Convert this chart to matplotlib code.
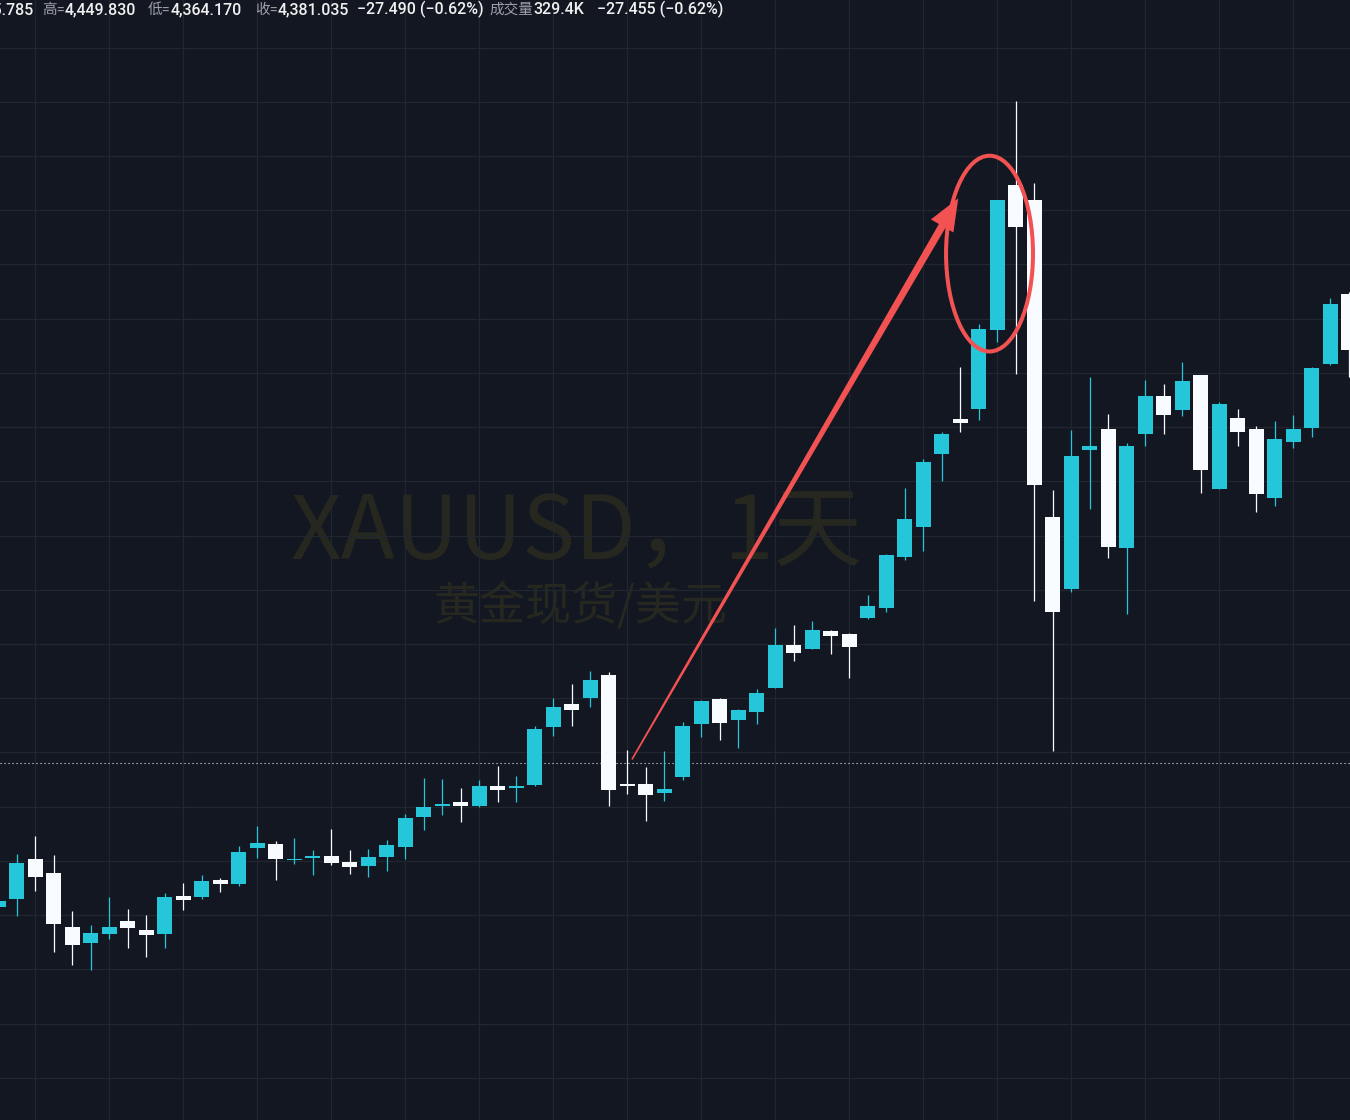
import matplotlib
matplotlib.use("Agg")
import matplotlib.pyplot as plt
from matplotlib.patches import Ellipse, Polygon
import numpy as np

# daily candles, XAUUSD
opens = [4115, 4130, 4203, 4178, 4078, 4049, 4065, 4089, 4073, 4065,
         4135, 4133, 4165, 4157, 4224, 4231, 4202, 4205, 4209, 4198,
         4191, 4207, 4226, 4281, 4301, 4309, 4301, 4338, 4334, 4340,
         4447, 4489, 4500, 4543, 4342, 4342, 4325, 4355, 4452, 4499,
         4460, 4475, 4519, 4598, 4591, 4624, 4618, 4648, 4666, 4760,
         4816, 4950, 5015, 5033, 5179, 5447, 5419, 4834, 4701, 4958,
         4997, 4777, 4987, 5057, 5032, 5096, 4886, 5017, 4997, 4869,
         4973, 4998, 5116, 5246]
highs = [4133, 4213, 4246, 4211, 4108, 4082, 4133, 4111, 4100, 4141,
         4159, 4174, 4168, 4227, 4264, 4237, 4242, 4220, 4259, 4220,
         4222, 4239, 4286, 4353, 4351, 4334, 4349, 4375, 4357, 4449,
         4500, 4526, 4550, 4548, 4405, 4373, 4403, 4456, 4497, 4500,
         4480, 4517, 4630, 4635, 4642, 4626, 4620, 4690, 4766, 4888,
         4941, 4991, 5111, 5190, 5419, 5601, 5450, 4884, 4995, 5092,
         5024, 4971, 5087, 5080, 5120, 5097, 5046, 5033, 5002, 5011,
         5022, 5110, 5238, 5249]
lows = [4106, 4098, 4144, 4032, 4008, 3999, 4056, 4039, 4023, 4039,
        4109, 4130, 4143, 4154, 4205, 4165, 4194, 4174, 4192, 4176,
        4170, 4181, 4203, 4257, 4285, 4272, 4300, 4309, 4309, 4339,
        4430, 4449, 4484, 4301, 4323, 4274, 4310, 4349, 4429, 4423,
        4408, 4452, 4518, 4569, 4590, 4582, 4537, 4646, 4659, 4755,
        4772, 4901, 4991, 5013, 5157, 5098, 4679, 4403, 4696, 4849,
        4759, 4655, 4965, 4987, 5021, 4879, 4885, 4965, 4843, 4855,
        4962, 4982, 5115, 5092]
closes = [4126, 4196, 4170, 4084, 4045, 4067, 4078, 4076, 4063, 4133,
          4128, 4163, 4157, 4216, 4233, 4203, 4203, 4209, 4196, 4189,
          4207, 4229, 4279, 4299, 4305, 4301, 4338, 4331, 4338, 4443,
          4484, 4478, 4534, 4331, 4338, 4322, 4333, 4449, 4495, 4454,
          4478, 4510, 4598, 4583, 4626, 4615, 4594, 4670, 4764, 4831,
          4936, 4987, 5008, 5181, 5419, 5369, 4893, 4659, 4947, 4965,
          4779, 4965, 5057, 5022, 5085, 4921, 5043, 4991, 4877, 4978,
          4997, 5109, 5227, 5142]

last_price = 4381.035

# header (legend line), label + value
header_labels = ["开=", "高=", "低=", "收=", "", "成交量", ""]
header_values = ["4,405.785", "4,449.830", "4,364.170", "4,381.035",
                 "\u221227.490 (\u22120.62%)", "329.4K", "\u221227.455 (\u22120.62%)"]
header_x = [None, 42, 148, 255, 357, 489, 597]   # px from left

wm_title = "XAUUSD\uff0c1天"
wm_sub = "黄金现货/美元"

# annotation anchors (bar index, price)
arrow_start = (34.25, 4387)
arrow_tip = (51.89, 5422)
ring_center = (53.58, 5320)
ring_size = (4.70, 361)

bg = "#131722"
grid_c = "#22262f"
teal = "#26c6da"
white = "#f8fbff"
red = "#f25252"

W, H = 1350, 1120
fig = plt.figure(figsize=(W / 100, H / 100), dpi=100, facecolor=bg)
ax = fig.add_axes([0, 0, 1, 1])
ax.set_facecolor(bg)
ax.set_xlim(0.092, 73.065)
ax.set_ylim(3722.1, 5787.7)
for s in ax.spines.values():
    s.set_visible(False)
ax.set_xticks(np.arange(2, 73, 4))
ax.set_yticks(np.arange(3800, 5800, 100))
ax.tick_params(length=0, labelbottom=False, labelleft=False)
ax.set_axisbelow(True)
ax.grid(True, color=grid_c, lw=0.9)

# watermark
t1 = ax.text(577 / W, 1 - 559 / H, wm_title, transform=fig.transFigure,
             ha="center", va="baseline", fontsize=80, color="#26281f",
             family=["Noto Sans CJK SC", "DejaVu Sans"], zorder=0.3)
t2 = ax.text(581 / W, 1 - 606 / H, wm_sub, transform=fig.transFigure,
             ha="center", va="center", fontsize=34, color="#26281f",
             family=["Noto Sans CJK SC", "DejaVu Sans"], zorder=0.3)
r = fig.canvas.get_renderer()
for t, target in ((t1, 572), (t2, 294)):
    w = t.get_window_extent(r).width
    t.set_fontsize(t.get_fontsize() * target / w)

# price line
ax.axhline(last_price, color="#e2e4ea", lw=0.8, linestyle=(0, (1, 2.6)), zorder=2)

# candles
x = np.arange(len(opens))
o = np.array(opens, dtype=float)
c = np.array(closes, dtype=float)
cols = np.where(c >= o, teal, white)
ax.vlines(x, lows, highs, colors=cols, lw=0.9, zorder=3)
ax.bar(x, np.maximum(np.abs(c - o), 1.9), bottom=np.minimum(o, c), width=0.81,
       color=cols, linewidth=0, zorder=4)

# red arrow, tapering shaft
S = ax.transData.transform(arrow_start)
T = ax.transData.transform(arrow_tip)
u = (T - S) / np.hypot(*(T - S))
n = np.array([-u[1], u[0]])
base = T - u * 32
pts = [S + n * 0.8, base + n * 3.8, base + n * 13, T,
       base - n * 13, base - n * 3.8, S - n * 0.8]
ax.add_patch(Polygon(ax.transData.inverted().transform(pts), closed=True,
                     fc=red, ec="none", zorder=6))

ax.add_patch(Ellipse(ring_center, ring_size[0], ring_size[1], fill=False,
                     ec=red, lw=2.9, zorder=6))

# header line
hfam = ["Roboto", "Noto Sans CJK SC", "DejaVu Sans"]
lab_c = "#9ea1a9"
val_c = "#f0f0f0"
yb = 1 - 14 / H
for lab, val, px in zip(header_labels, header_values, header_x):
    if px is None:
        tv = fig.text(34 / W, yb, val, ha="right", va="baseline", fontsize=11.5,
                      fontweight="medium", color=val_c, family=hfam)
        wv = tv.get_window_extent(r).width
        fig.text((34 - wv) / W, yb, lab, ha="right", va="baseline",
                 fontsize=10.5, color=lab_c, family=hfam)
        continue
    xx = px
    if lab:
        tl = fig.text(xx / W, yb, lab, ha="left", va="baseline",
                      fontsize=10.5, color=lab_c, family=hfam)
        xx += tl.get_window_extent(r).width
    fig.text(xx / W, yb, val, ha="left", va="baseline", fontsize=11.5,
             fontweight="medium", color=val_c, family=hfam)

fig.savefig("out.png", dpi=100, facecolor=bg)
